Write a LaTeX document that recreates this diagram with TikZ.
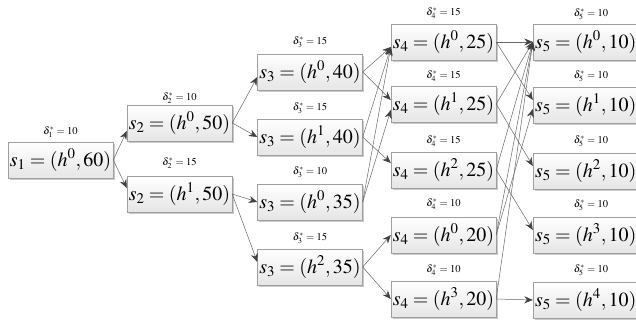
\documentclass[tikz,border=0pt]{standalone}
\usepackage{mathptmx}
\usetikzlibrary{arrows.meta,shadows}
\tikzset{
  box/.style={draw=gray!75, top color=white, bottom color=gray!20,
    minimum width=105pt, minimum height=36pt, inner sep=1pt,
    font=\fontsize{20}{22}\selectfont,
    drop shadow={shadow xshift=1.8pt, shadow yshift=-1.8pt, fill=gray!70, opacity=0.6}},
  boxr/.style={box, minimum width=118pt, text width=114pt, align=left},
  lab/.style={font=\fontsize{10.5}{11}\selectfont, inner sep=0pt},
  edge/.style={draw=gray!80!black, line width=0.5pt, -{Stealth[length=8.5pt,width=7pt,color=black!75]}}
}
\begin{document}
\begin{tikzpicture}[x=1pt,y=-1pt]
\useasboundingbox (0,0) rectangle (636,320);
% level 1
\node[box] (s1) at (60.5,160) {$s_1=(h^0,60)$};
\node[lab] (l1) at (60.5,132) {$\delta_1^*=10$};
% level 2
\node[box] (s2a) at (179.5,123) {$s_2=(h^0,50)$};
\node[lab] (l2a) at (179.5,98) {$\delta_2^*=10$};
\node[box] (s2b) at (179.5,194) {$s_2=(h^1,50)$};
\node[lab] (l2b) at (179.5,163) {$\delta_2^*=15$};
% level 3
\node[box] (s3a) at (310,72) {$s_3=(h^0,40)$};
\node[lab] (l3a) at (310,42) {$\delta_3^*=15$};
\node[box] (s3b) at (310,137) {$s_3=(h^1,40)$};
\node[lab] (l3b) at (310,108) {$\delta_3^*=15$};
\node[box] (s3c) at (310,202) {$s_3=(h^0,35)$};
\node[lab] (l3c) at (310,172) {$\delta_3^*=10$};
\node[box] (s3d) at (310,267) {$s_3=(h^2,35)$};
\node[lab] (l3d) at (310,238) {$\delta_3^*=15$};
% level 4
\node[box] (s4a) at (443.5,42) {$s_4=(h^0,25)$};
\node[lab] (l4a) at (443.5,13) {$\delta_4^*=15$};
\node[box] (s4b) at (443.5,104) {$s_4=(h^1,25)$};
\node[lab] (l4b) at (443.5,76) {$\delta_4^*=15$};
\node[box] (s4c) at (443.5,170) {$s_4=(h^2,25)$};
\node[lab] (l4c) at (443.5,141) {$\delta_4^*=15$};
\node[box] (s4d) at (443.5,235) {$s_4=(h^0,20)$};
\node[lab] (l4d) at (443.5,204) {$\delta_4^*=10$};
\node[box] (s4e) at (443.5,299) {$s_4=(h^3,20)$};
\node[lab] (l4e) at (443.5,270) {$\delta_4^*=10$};
% level 5
\node[boxr] (s5a) at (592,42) {$s_5=(h^0,10)$};
\node[lab] (l5a) at (591,14) {$\delta_5^*=10$};
\node[boxr] (s5b) at (592,105) {$s_5=(h^1,10)$};
\node[lab] (l5b) at (591,76) {$\delta_5^*=10$};
\node[boxr] (s5c) at (592,171) {$s_5=(h^2,10)$};
\node[lab] (l5c) at (591,141) {$\delta_5^*=10$};
\node[boxr] (s5d) at (592,235) {$s_5=(h^3,10)$};
\node[lab] (l5d) at (591,205) {$\delta_5^*=10$};
\node[boxr] (s5e) at (592,300) {$s_5=(h^4,10)$};
\node[lab] (l5e) at (591,270) {$\delta_5^*=10$};
% edges 1 -> 2
\draw[edge] (s1.east) -- ([yshift=-8pt]s2a.west);
\draw[edge] (s1.east) -- ([yshift=6pt]s2b.west);
% edges 2 -> 3
\draw[edge] (s2a.east) -- ([yshift=-5pt]s3a.west);
\draw[edge] (s2a.east) -- (s3b.west);
\draw[edge] (s2b.east) -- (s3c.west);
\draw[edge] (s2b.east) -- ([yshift=5pt]s3d.west);
% edges 3 -> 4
\draw[edge] (s3a.east) -- ([yshift=-5pt]s4a.west);
\draw[edge] (s3a.east) -- ([yshift=4pt]s4b.west);
\draw[edge] (s3b.east) -- ([yshift=-5pt]s4a.west);
\draw[edge] (s3b.east) -- ([yshift=7pt]s4c.west);
\draw[edge] (s3c.east) -- ([yshift=-5pt]s4a.west);
\draw[edge] (s3c.east) -- ([yshift=-6pt]s4b.west);
\draw[edge] (s3d.east) -- (s4d.west);
\draw[edge] (s3d.east) -- (s4e.west);
% edges 4 -> 5
\draw[edge] (s4a.east) -- (s5a.west);
\draw[edge] (s4a.east) -- ([yshift=5pt]s5b.west);
\draw[edge] (s4b.east) -- (s5a.west);
\draw[edge] (s4b.east) -- ([yshift=5pt]s5c.west);
\draw[edge] (s4c.east) -- (s5a.west);
\draw[edge] (s4c.east) -- ([yshift=5pt]s5d.west);
\draw[edge] (s4d.east) -- (s5a.west);
\draw[edge] (s4d.east) -- ([yshift=-4pt]s5b.west);
\draw[edge] (s4e.east) -- (s5a.west);
\draw[edge] (s4e.east) -- (s5e.west);
\end{tikzpicture}
\end{document}
